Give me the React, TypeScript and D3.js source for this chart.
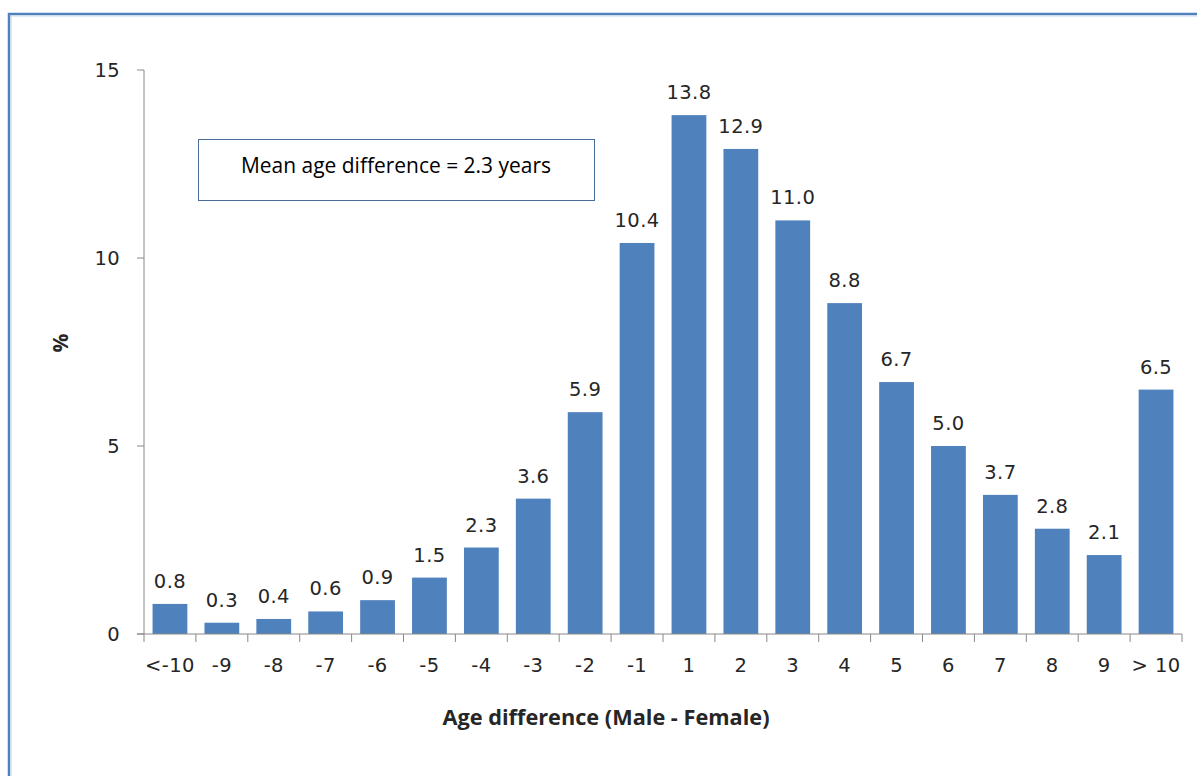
import React from "react";
import * as d3 from "d3";

const categories = ["<-10", "-9", "-8", "-7", "-6", "-5", "-4", "-3", "-2", "-1", "1", "2", "3", "4", "5", "6", "7", "8", "9", "> 10"];
const values = [0.8, 0.3, 0.4, 0.6, 0.9, 1.5, 2.3, 3.6, 5.9, 10.4, 13.8, 12.9, 11.0, 8.8, 6.7, 5.0, 3.7, 2.8, 2.1, 6.5];
const yTicks = [0, 5, 10, 15];
const note = "Mean age difference = 2.3 years";
const xTitle = "Age difference (Male - Female)";
const yTitle = "%";

const W = 1197;
const H = 776;
const left = 144;
const right = 1182;
const top = 70;
const bottom = 634;

export default function App() {
  const x = d3.scaleBand<string>().domain(categories).range([left, right]).paddingInner(0.33).paddingOuter(0.165);
  const xb = d3.scaleBand<string>().domain(categories).range([left, right]);
  const y = d3.scaleLinear().domain([0, 15]).range([bottom, top]);
  const axisColor = "#888888";
  const textColor = "#262626";
  const barColor = "#4F81BD";
  const numFont = "'DejaVu Sans', Verdana, sans-serif";
  const numSize = 19.5;
  const boundaries = categories.map((c) => xb(c) as number).concat([right]);

  return (
    <svg width={W} height={H} style={{ position: "absolute", left: 0, top: 0, background: "#fff" }}>
      <rect x={0} y={0} width={W} height={H} fill="#fff" />
      {/* outer frame */}
      <rect x={9} y={14} width={1400} height={1000} fill="none" stroke={barColor} strokeWidth={2.5} />
      <rect x={11} y={16} width={1400} height={1000} fill="none" stroke="#c5d5ea" strokeWidth={1} />

      {/* bars */}
      {categories.map((c, i) => (
        <rect key={c} x={x(c)} y={y(values[i])} width={x.bandwidth()} height={bottom - y(values[i])} fill={barColor} />
      ))}

      {/* data labels */}
      {categories.map((c, i) => (
        <text key={"l" + c} x={(x(c) as number) + x.bandwidth() / 2} y={y(values[i]) - 16} textAnchor="middle"
          fontFamily={numFont} fontSize={numSize} letterSpacing={0.4} fill={textColor}>
          {values[i].toFixed(1)}
        </text>
      ))}

      {/* y axis */}
      <line x1={left} x2={left} y1={top} y2={bottom} stroke={axisColor} strokeWidth={1} />
      {yTicks.map((t) => (
        <g key={"yt" + t}>
          <line x1={left - 7} x2={left} y1={y(t)} y2={y(t)} stroke={axisColor} strokeWidth={1} />
          <text x={120} y={y(t)} dy="0.36em" textAnchor="end" fontFamily={numFont} fontSize={numSize} letterSpacing={0.4} fill={textColor}>
            {t}
          </text>
        </g>
      ))}

      {/* x axis */}
      <line x1={left - 7} x2={right} y1={bottom} y2={bottom} stroke={axisColor} strokeWidth={1} />
      {boundaries.map((b, i) => (
        <line key={"xt" + i} x1={b} x2={b} y1={bottom} y2={bottom + 8} stroke={axisColor} strokeWidth={1} />
      ))}
      {categories.map((c) => (
        <text key={"xl" + c} x={(xb(c) as number) + xb.bandwidth() / 2} y={672} textAnchor="middle"
          fontFamily={numFont} fontSize={numSize} letterSpacing={0.4} fill={textColor}>
          {c}
        </text>
      ))}

      {/* axis titles */}
      <text x={606} y={725} textAnchor="middle" fontFamily="'Open Sans', 'Liberation Sans', sans-serif" fontWeight="bold"
        fontSize={21} fill={textColor} textLength={327} lengthAdjust="spacingAndGlyphs">
        {xTitle}
      </text>
      <text transform="translate(68,343) rotate(-90)" textAnchor="middle" fontFamily="'Open Sans', sans-serif" fontWeight="bold"
        fontSize={21} fill={textColor}>
        {yTitle}
      </text>

      {/* annotation box */}
      <rect x={198.5} y={139.5} width={396} height={61} fill="#fff" stroke="#4a6b9a" strokeWidth={1} />
      <text x={396} y={165} dy="0.35em" textAnchor="middle" fontFamily="'Open Sans', sans-serif" fontSize={21.5}
        fill="#000" textLength={310} lengthAdjust="spacingAndGlyphs">
        {note}
      </text>
    </svg>
  );
}
